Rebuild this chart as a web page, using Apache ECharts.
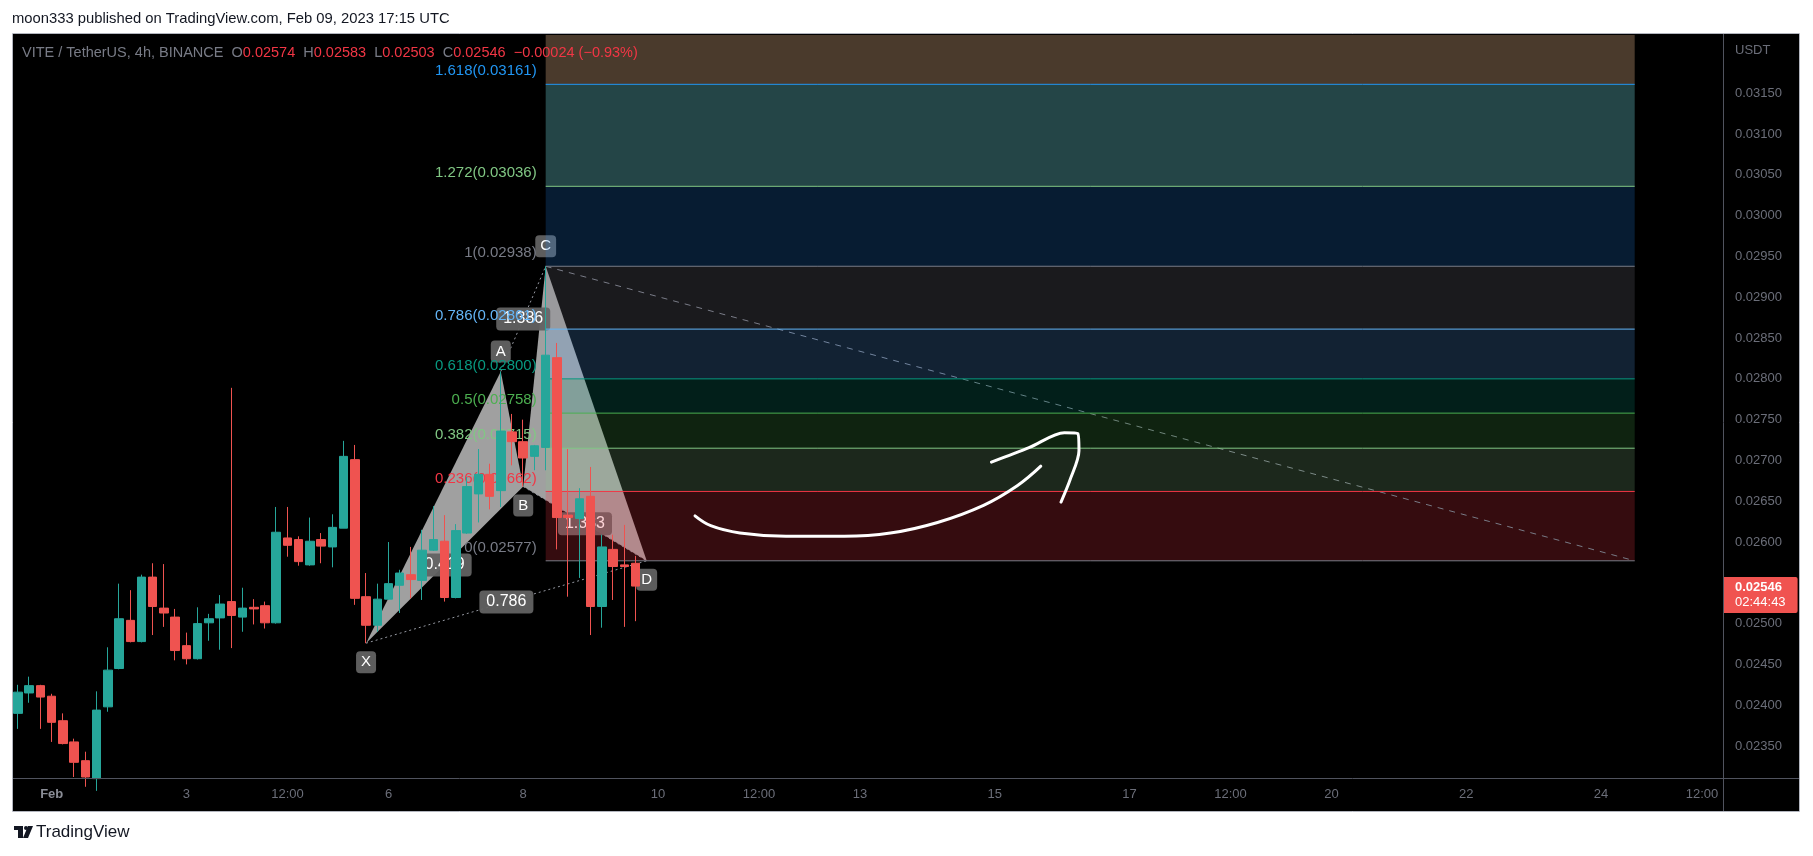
<!DOCTYPE html>
<html><head><meta charset="utf-8">
<script src="https://cdn.jsdelivr.net/npm/echarts@6/dist/echarts.min.js"></script>
<style>html,body{margin:0;padding:0;background:#fff}#c{width:1813px;height:856px}</style>
</head><body><div id="c"></div>
<script>
// ---------------- DATA ----------------
// 4h bars, index 0 = Feb 1 00:00 (UTC)
const FIRST_BAR = -3;
const candleOpen  = [0.02390,0.02415,0.02424,0.02411,0.02381,0.02355,0.02332,0.02310,0.02398,0.02445,0.02504,0.02478,0.02557,0.02519,0.02508,0.02473,0.02457,0.02501,0.02507,0.02527,0.02508,0.02520,0.02522,0.02501,0.02605,0.02603,0.02572,0.02603,0.02594,0.02617,0.02701,0.02533,0.02498,0.02530,0.02547,0.02560,0.02553,0.02590,0.02601,0.02532,0.02611,0.02659,0.02683,0.02663,0.02735,0.02723,0.02705,0.02716,0.02826,0.02633,0.02629,0.02656,0.02521,0.02591,0.02572,0.02574];
const candleClose = [0.02416,0.02424,0.02410,0.02379,0.02353,0.02330,0.02312,0.02394,0.02443,0.02506,0.02478,0.02557,0.02521,0.02513,0.02467,0.02457,0.02500,0.02506,0.02524,0.02510,0.02519,0.02518,0.02501,0.02612,0.02596,0.02576,0.02601,0.02595,0.02618,0.02705,0.02531,0.02498,0.02530,0.02549,0.02562,0.02554,0.02590,0.02603,0.02532,0.02614,0.02668,0.02683,0.02656,0.02736,0.02723,0.02703,0.02718,0.02829,0.02630,0.02630,0.02653,0.02521,0.02594,0.02570,0.02570,0.02546];
const candleLow   = [0.02371,0.02403,0.02371,0.02355,0.02352,0.02312,0.02300,0.02295,0.02392,0.02444,0.02477,0.02477,0.02486,0.02496,0.02455,0.02450,0.02456,0.02479,0.02468,0.02470,0.02490,0.02499,0.02494,0.02500,0.02582,0.02571,0.02571,0.02574,0.02569,0.02617,0.02523,0.02476,0.02490,0.02529,0.02513,0.02531,0.02529,0.02589,0.02527,0.02531,0.02610,0.02624,0.02640,0.02643,0.02694,0.02668,0.02688,0.02688,0.02591,0.02533,0.02556,0.02486,0.02495,0.02529,0.02496,0.02503];
const candleHigh  = [0.02425,0.02435,0.02425,0.02414,0.02390,0.02359,0.02343,0.02417,0.02471,0.02549,0.02541,0.02560,0.02574,0.02573,0.02518,0.02489,0.02520,0.02512,0.02535,0.02789,0.02544,0.02530,0.02527,0.02643,0.02643,0.02607,0.02630,0.02611,0.02634,0.02724,0.02719,0.02562,0.02549,0.02600,0.02566,0.02594,0.02615,0.02644,0.02633,0.02622,0.02680,0.02714,0.02696,0.02809,0.02757,0.02750,0.02719,0.02938,0.02844,0.02714,0.02666,0.02692,0.02609,0.02609,0.02621,0.02583];

// time axis ticks (bar index) and labels
const timeTickBars   = [0,12,21,30,42,54,63,72,84,96,105,114,126,138,147];
const timeTickLabels = ['Feb','3','12:00','6','8','10','12:00','13','15','17','12:00','20','22','24','12:00'];
// price axis ticks
const priceTicks = [0.0235,0.0240,0.0245,0.0250,0.0255,0.0260,0.0265,0.0270,0.0275,0.0280,0.0285,0.0290,0.0295,0.0300,0.0305,0.0310,0.0315];

// Fibonacci retracement levels
const fibRatios = ['0','0.236','0.382','0.5','0.618','0.786','1','1.272','1.618','2.618'];
const fibPrices = [0.02577,0.02662,0.02715,0.02758,0.02800,0.02861,0.02938,0.03036,0.03161,0.03522];
const fibStartBar = 44, fibEndBar = 141;

// XABCD harmonic pattern
const patternNames  = ['X','A','B','C','D'];
const patternBars   = [28,40,42,44,53];
const patternPrices = [0.02476,0.02809,0.02668,0.02938,0.02577];
const ratioPairs    = [[0,2],[1,3],[2,4],[0,4]];
const ratioTexts    = ['0.419','1.386','1.333','0.786'];

// hand-drawn arrow (bar index, price)
const arrowCurveBars   = [57.3,58.7,61.3,65.4,70.6,74.7,78.9,83.0,86.0,88.1];
const arrowCurvePrices = [0.02632,0.02620,0.02611,0.02607,0.02607,0.02611,0.02624,0.02645,0.02669,0.02693];
const arrowHeadBars    = [83.7,87.1,90.2,91.4,91.5,90.7,89.9];
const arrowHeadPrices  = [0.02698,0.02716,0.02734,0.02733,0.02712,0.02676,0.02649];

const countdownText = '02:44:43';
const titleText = 'moon333 published on TradingView.com, Feb 09, 2023 17:15 UTC';
const symbolText = 'VITE / TetherUS, 4h, BINANCE';
const currencyText = 'USDT';

// ---------------- STYLE ----------------
const FONT = '"Liberation Sans", Arial, sans-serif';
const UP = '#26a69a', DOWN = '#ef5350';
const fibLineColors = ['#787b86','#f23645','#81c784','#4caf50','#089981','#64b5f6','#787b86','#81c784','#2196f3'];
const fibFillColors = ['rgba(242,54,69,0.22)','rgba(140,200,140,0.2)','rgba(76,175,80,0.2)','rgba(8,153,129,0.2)',
  'rgba(90,170,255,0.2)','rgba(130,130,145,0.2)','rgba(33,140,250,0.2)','rgba(120,230,235,0.3)','rgba(255,200,150,0.29)'];

const PL = 13, PT = 35, PR = 1723, PB = 778, AXB = 811, RE = 1799;
const X_MIN = -3.447, X_MAX = 148.865, Y_MIN = 0.0231078, Y_MAX = 0.0322147;

const chart = echarts.init(document.getElementById('c'));

const candleData = candleOpen.map((o, i) => [FIRST_BAR + i, o, candleClose[i], candleLow[i], candleHigh[i]]);
const fibData = fibPrices.slice(0, -1).map((p, i) => [fibStartBar, fibEndBar, p, fibPrices[i + 1], i]);

function fibRender(params, api) {
  const i = api.value(4);
  const a = api.coord([api.value(0), api.value(2)]);
  const b = api.coord([api.value(1), api.value(3)]);
  const children = [{
    type: 'rect', shape: { x: a[0], y: b[1], width: b[0] - a[0], height: a[1] - b[1] },
    style: { fill: fibFillColors[i] }
  }, {
    type: 'line', shape: { x1: a[0], y1: a[1], x2: b[0], y2: a[1] },
    style: { stroke: fibLineColors[i], lineWidth: 1 }
  }, {
    type: 'text', style: {
      text: fibRatios[i] + '(' + fibPrices[i].toFixed(5) + ')', x: a[0] - 9, y: a[1] - 13,
      fill: fibLineColors[i], font: '15px ' + FONT, align: 'right', verticalAlign: 'middle'
    }
  }];
  if (i === 0) {
    const c = api.coord([fibStartBar, fibPrices[6]]);
    children.push({ type: 'line', shape: { x1: c[0], y1: c[1], x2: b[0], y2: a[1] },
      style: { stroke: '#787b86', lineWidth: 1, lineDash: [6, 6] } });
  }
  return { type: 'group', children };
}

function patternRender(params, api) {
  const pts = patternBars.map((b, i) => api.coord([b, patternPrices[i]]));
  const fill = 'rgba(205,205,205,0.78)';
  const children = [
    { type: 'polygon', shape: { points: [pts[0], pts[1], pts[2]] }, style: { fill } },
    { type: 'polygon', shape: { points: [pts[2], pts[3], pts[4]] }, style: { fill } }
  ];
  ratioPairs.forEach((pr, k) => {
    const p = pts[pr[0]], q = pts[pr[1]];
    if (k > 0) children.push({ type: 'line', shape: { x1: p[0], y1: p[1], x2: q[0], y2: q[1] },
      style: { stroke: '#9598a1', lineWidth: 1, lineDash: [2, 3] } });
    children.push({ type: 'text', style: {
      text: ratioTexts[k], x: (p[0] + q[0]) / 2, y: (p[1] + q[1]) / 2, fill: '#fff',
      font: '16px ' + FONT, align: 'center', verticalAlign: 'middle',
      backgroundColor: 'rgba(98,98,98,0.95)', padding: [4, 7, 3, 7], borderRadius: 4 } });
  });
  patternNames.forEach((n, i) => {
    const low = (i % 2 === 0);
    children.push({ type: 'text', style: {
      text: n, x: pts[i][0], y: pts[i][1] + (low ? 19 : -20), fill: '#fff',
      font: '15px ' + FONT, align: 'center', verticalAlign: 'middle',
      backgroundColor: 'rgba(98,98,98,0.95)', padding: [4, 5, 3, 5], borderRadius: 4 } });
  });
  return { type: 'group', children };
}

const lastI = candleClose.length - 1;
const chg = candleClose[lastI] - candleClose[lastI - 1];
const fmtSigned = v => (v < 0 ? '\u2212' : '+') + Math.abs(v).toFixed(5);
const legendText = '{g|' + symbolText + '}  {g|O}{r|' + candleOpen[lastI].toFixed(5) + '}  {g|H}{r|' + candleHigh[lastI].toFixed(5) +
  '}  {g|L}{r|' + candleLow[lastI].toFixed(5) + '}  {g|C}{r|' + candleClose[lastI].toFixed(5) + '}  {r|' + fmtSigned(chg) +
  ' (' + (chg < 0 ? '\u2212' : '+') + Math.abs(chg / candleClose[lastI - 1] * 100).toFixed(2) + '%)}';

const option = {
  backgroundColor: '#ffffff',
  animation: false,
  grid: { left: PL, top: PT, width: PR - PL, height: PB - PT, containLabel: false },
  xAxis: {
    type: 'value', min: X_MIN, max: X_MAX,
    axisLine: { show: false }, axisTick: { show: false }, splitLine: { show: false },
    axisLabel: {
      customValues: timeTickBars, margin: 10, color: '#6b6e79', fontSize: 13, fontFamily: FONT,
      formatter: v => {
        const k = timeTickBars.indexOf(Math.round(v));
        return k === 0 ? '{m|' + timeTickLabels[k] + '}' : (k >= 0 ? timeTickLabels[k] : '');
      },
      rich: { m: { fontWeight: 'bold', color: '#8a8d96', fontSize: 13, fontFamily: FONT } }
    }
  },
  yAxis: {
    type: 'value', position: 'right', min: Y_MIN, max: Y_MAX,
    axisLine: { show: false }, axisTick: { show: false }, splitLine: { show: false },
    axisLabel: { customValues: priceTicks, margin: 12, color: '#6b6e79', fontSize: 13, fontFamily: FONT,
      formatter: v => v.toFixed(5) }
  },
  series: [
    { type: 'custom', name: 'pattern', z: 3, data: [[patternBars[0], patternPrices[0]]], renderItem: patternRender, clip: true, silent: true },
    { type: 'custom', name: 'fib', z: 4, data: fibData, encode: { x: [0, 1], y: [2, 3] }, renderItem: fibRender, clip: true, silent: true },
    { type: 'candlestick', name: 'VITEUSDT', z: 5, data: candleData, encode: { x: 0, y: [1, 2, 3, 4] }, barWidth: 9,
      itemStyle: { color: UP, color0: DOWN, borderColor: UP, borderColor0: DOWN, borderWidth: 1 } },
    { type: 'line', name: 'arrow', z: 6, smooth: 0.4, symbol: 'none', data: arrowCurveBars.map((b, i) => [b, arrowCurvePrices[i]]),
      lineStyle: { color: '#ffffff', width: 3, cap: 'round', join: 'round' } },
    { type: 'line', name: 'arrowHead', z: 6, smooth: 0.3, symbol: 'none', data: arrowHeadBars.map((b, i) => [b, arrowHeadPrices[i]]),
      lineStyle: { color: '#ffffff', width: 3, cap: 'round', join: 'round' } }
  ],
  graphic: []
};
chart.setOption(option);

const yLast = chart.convertToPixel({ gridIndex: 0 }, [0, candleClose[lastI]])[1];
chart.setOption({
  graphic: [
    { type: 'rect', z: -10, silent: true, shape: { x: PL, y: PT - 1, width: RE - PL, height: AXB - PT + 1 }, style: { fill: '#000' } },
    { type: 'rect', z: 50, silent: true, shape: { x: PL - 0.5, y: PT - 1.5, width: RE - PL + 1, height: AXB - PT + 2 }, style: { fill: 'none', stroke: '#b2b5be', lineWidth: 1 } },
    { type: 'line', z: 50, silent: true, shape: { x1: PR + 0.5, y1: PT - 1, x2: PR + 0.5, y2: AXB }, style: { stroke: '#50535e', lineWidth: 1 } },
    { type: 'line', z: 50, silent: true, shape: { x1: PL, y1: PB + 0.5, x2: RE, y2: PB + 0.5 }, style: { stroke: '#50535e', lineWidth: 1 } },
    { type: 'text', z: 50, silent: true, style: { text: titleText, x: 12, y: 19, fill: '#131722', font: '14.8px ' + FONT, verticalAlign: 'middle' } },
    { type: 'text', z: 50, silent: true, style: { text: legendText, x: 22, y: 53, font: '14.5px ' + FONT, verticalAlign: 'middle',
      rich: { g: { fill: '#787b86', font: '14.5px ' + FONT }, r: { fill: '#f23645', font: '14.5px ' + FONT } } } },
    { type: 'text', z: 50, silent: true, style: { text: currencyText, x: 1735, y: 50, fill: '#6b6e79', font: '13px ' + FONT, verticalAlign: 'middle' } },
    { type: 'text', z: 60, silent: true, style: {
      text: '{a|' + candleClose[lastI].toFixed(5) + '}\n{b|' + countdownText + '}', x: PR + 1, y: yLast - 9,
      backgroundColor: '#f05350', padding: [3, 12, 3, 11], borderRadius: [0, 2, 2, 0],
      rich: { a: { fill: '#fff', font: 'bold 13px ' + FONT, lineHeight: 15 }, b: { fill: '#fff', font: '13px ' + FONT, lineHeight: 15 } } } },
    // TradingView logo
    { type: 'rect', z: 50, silent: true, shape: { x: 14, y: 826, width: 9, height: 4 }, style: { fill: '#131722' } },
    { type: 'rect', z: 50, silent: true, shape: { x: 18, y: 826, width: 5, height: 12 }, style: { fill: '#131722' } },
    { type: 'circle', z: 50, silent: true, shape: { cx: 26, cy: 828, r: 2 }, style: { fill: '#131722' } },
    { type: 'polygon', z: 50, silent: true, shape: { points: [[28, 826], [33, 826], [28, 838], [23, 838]] }, style: { fill: '#131722' } },
    { type: 'text', z: 50, silent: true, style: { text: 'TradingView', x: 36, y: 832, fill: '#131722', font: '17px ' + FONT, verticalAlign: 'middle' } }
  ]
});
</script>
</body></html>
